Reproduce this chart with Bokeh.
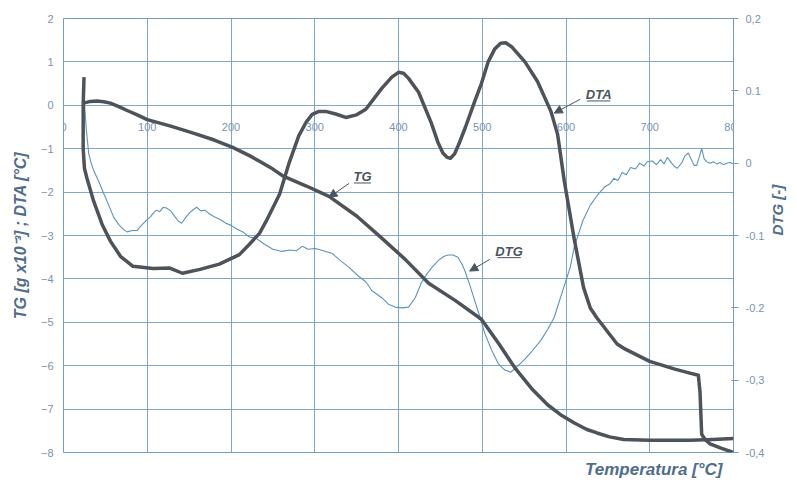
import math
from bokeh.plotting import figure
from bokeh.models import (Range1d, LinearAxis, FixedTicker, Title, Arrow, NormalHead,
                          ColumnDataSource, LabelSet)
from bokeh.core.properties import value
from bokeh.embed import file_html
from bokeh.resources import INLINE

# ---------------- data ----------------
x_ticks = [0, 100, 200, 300, 400, 500, 600, 700, 800]
x_tick_labels = ["0", "100", "200", "300", "400", "500", "600", "700", "800"]
left_ticks = [-8, -7, -6, -5, -4, -3, -2, -1, 0, 1, 2]
dtg_ticks = [-0.4, -0.3, -0.2, -0.1, 0.0, 0.1, 0.2]
dtg_tick_labels = ["-0,4", "-0,3", "-0.2", "-0.1", "0", "0.1", "0,2"]

tg_temp = [24, 32, 40, 48, 56, 66, 76, 88, 100, 128, 155, 180, 202, 222, 234, 250, 263,
           290, 317, 350, 380, 408, 436, 468, 499, 520, 539, 560, 578, 595, 610, 625,
           637, 652, 669, 700, 748, 775, 800]
tg_val = [0.05, 0.09, 0.1, 0.08, 0.05, -0.03, -0.12, -0.22, -0.33, -0.48, -0.64, -0.8,
          -0.97, -1.16, -1.29, -1.47, -1.64, -1.86, -2.1, -2.55, -3.06, -3.55, -4.1,
          -4.5, -4.93, -5.5, -6.05, -6.55, -6.9, -7.15, -7.32, -7.47, -7.55, -7.64,
          -7.7, -7.72, -7.72, -7.7, -7.68]

dta_temp = [24.5, 23.5, 23.5, 25, 28, 36, 46, 56, 68, 83, 107, 127, 142, 163, 186, 210,
            222, 234, 242, 258, 269, 281, 290, 297, 305, 313, 325, 337, 350, 361, 380, 392,
            400, 406, 412, 424, 439, 447, 453, 458, 462, 467, 473, 480, 491, 499, 507, 515,
            522, 528, 535, 551, 566, 582, 590, 598, 610, 621, 629, 637, 661, 669, 700, 730,
            748, 758, 760, 762, 766, 772, 785, 800]
dta_val = [0.65, 0.0, -1.0, -1.45, -1.68, -2.21, -2.74, -3.13, -3.48, -3.71, -3.76,
           -3.75, -3.87, -3.78, -3.66, -3.44, -3.2, -2.95, -2.67, -2.05, -1.35, -0.7,
           -0.38, -0.21, -0.14, -0.14, -0.2, -0.28, -0.22, -0.09, 0.39, 0.65, 0.76, 0.74,
           0.62, 0.3, -0.4, -0.85, -1.1, -1.2, -1.22, -1.12, -0.85, -0.5, 0.09, 0.5, 1.0,
           1.3, 1.43, 1.44, 1.35, 1.0, 0.55, -0.14, -0.67, -1.75, -3.1, -4.2, -4.67, -4.9,
           -5.5, -5.6, -5.9, -6.08, -6.17, -6.22, -6.6, -7.58, -7.7, -7.8, -7.9, -8.0]

dtg_temp = [25, 27, 30, 33, 36, 42, 48, 54, 60, 66, 72, 76, 82, 88, 93, 99, 104, 108,
            111, 115, 119, 123, 128, 133, 137, 141, 146, 151, 155, 159, 164, 169, 174,
            180, 187, 194, 200, 207, 214, 222, 230, 240, 250, 261, 270, 278, 285, 292,
            301, 310, 321, 330, 341, 352, 361, 368, 380, 388, 396, 404, 412, 420, 427,
            434, 440, 448, 454, 459, 465, 471, 476, 479, 485, 491, 497, 503, 511, 519,
            527, 534, 542, 550, 560, 570, 578, 586, 595, 605, 610, 620, 629, 637, 646,
            653, 657, 662, 667, 672, 677, 683, 688, 693, 697, 703, 708, 713, 717, 721,
            726, 730, 733, 738, 742, 746, 750, 753, 756, 759, 762, 765, 768, 772, 776,
            780, 784, 788, 792, 796, 800]
dtg_val = [0.085, 0.05, 0.014, 0.0, -0.01, -0.025, -0.042, -0.058, -0.075, -0.085,
           -0.092, -0.095, -0.093, -0.093, -0.086, -0.079, -0.074, -0.068, -0.065,
           -0.067, -0.061, -0.062, -0.066, -0.074, -0.08, -0.083, -0.075, -0.068,
           -0.064, -0.061, -0.066, -0.065, -0.07, -0.074, -0.078, -0.083, -0.086,
           -0.091, -0.095, -0.102, -0.104, -0.112, -0.119, -0.122, -0.12, -0.121,
           -0.115, -0.119, -0.118, -0.121, -0.125, -0.134, -0.144, -0.156, -0.164,
           -0.176, -0.186, -0.195, -0.199, -0.2, -0.199, -0.186, -0.166, -0.153,
           -0.144, -0.134, -0.129, -0.127, -0.127, -0.13, -0.14, -0.148, -0.168,
           -0.19, -0.212, -0.235, -0.258, -0.277, -0.286, -0.289, -0.281, -0.272,
           -0.259, -0.245, -0.23, -0.213, -0.18, -0.144, -0.115, -0.08, -0.058,
           -0.045, -0.033, -0.028, -0.021, -0.024, -0.013, -0.016, -0.006, -0.008,
           0.0, -0.004, 0.002, 0.003, -0.002, 0.005, -0.001, 0.008, 0.0, -0.005,
           -0.007, 0.0, 0.01, 0.014, 0.004, -0.003, -0.003, 0.008, 0.02, 0.006, 0.002,
           0.0, 0.002, -0.001, 0.001, -0.002, 0.0, 0.001, -0.001]

# curve annotations (label text, label position, arrow start, arrow end) in TG/DTA units
ann_text = ["TG", "DTG", "DTA"]
ann_x = [357, 532, 639]
ann_y = [-1.64, -3.36, 0.25]
arrow_x0 = [341, 509, 617]
arrow_y0 = [-1.8, -3.55, 0.14]
arrow_x1 = [317, 485, 586]
arrow_y1 = [-2.12, -3.82, -0.18]

# ---------------- styles ----------------
GRID = "#6f9ccc"
TICKC = "#7893b0"
LABC = "#4f6d8c"
THICK = "#4d5358"
THIN = "#5a93bd"
ANNC = "#4a5560"
FONT = "Liberation Sans"

p = figure(width=797, height=496, x_range=Range1d(0, 800), y_range=Range1d(-8, 2),
           output_backend="svg", toolbar_location=None,
           min_border_left=63, min_border_right=60, min_border_top=18, min_border_bottom=44)
p.extra_y_ranges = {"dtg": Range1d(-0.4, 0.2)}
p.background_fill_color = "white"
p.border_fill_color = "white"
p.outline_line_color = GRID
p.outline_line_width = 1

p.xgrid.ticker = FixedTicker(ticks=x_ticks)
p.ygrid.ticker = FixedTicker(ticks=left_ticks)
for g in (p.xgrid[0], p.ygrid[0]):
    g.grid_line_color = GRID
    g.grid_line_width = 1
    g.grid_line_alpha = 0.9

# bottom axis only reserves a small gap above the "Temperatura" title
# (its single tick lies far outside the range); the visible tick labels
# are drawn at the zero line below
xa = p.xaxis[0]
xa.ticker = FixedTicker(ticks=[-1000])
xa.major_label_overrides = {-1000: ""}
xa.axis_line_color = None
xa.major_tick_line_color = "white"
xa.minor_tick_line_color = None
xa.major_tick_in = 0
xa.major_tick_out = 12
xa.minor_tick_in = 0
xa.minor_tick_out = 0
xa.major_label_standoff = 0
xa.major_label_text_font_size = "1px"

ya = p.yaxis[0]
ya.ticker = FixedTicker(ticks=left_ticks)
ya.axis_line_color = None
ya.major_tick_line_color = None
ya.minor_tick_line_color = None
ya.major_tick_in = 0
ya.major_tick_out = 0
ya.minor_tick_in = 0
ya.minor_tick_out = 0
ya.major_label_standoff = 10
ya.major_label_text_font = FONT
ya.major_label_text_font_size = "11px"
ya.major_label_text_color = TICKC
ya.axis_label = "TG [g x10\u207b\u00b3] ; DTA [\u00b0C]"
ya.axis_label_text_font = FONT
ya.axis_label_text_font_size = "16px"
ya.axis_label_text_font_style = "bold italic"
ya.axis_label_text_color = LABC
ya.axis_label_standoff = 9

ra = LinearAxis(y_range_name="dtg", ticker=FixedTicker(ticks=dtg_ticks),
                major_label_overrides=dict(zip(dtg_ticks, dtg_tick_labels)))
ra.axis_line_color = None
ra.major_tick_line_color = GRID
ra.major_tick_in = 2
ra.major_tick_out = 5
ra.minor_tick_line_color = None
ra.minor_tick_in = 0
ra.minor_tick_out = 0
ra.major_label_standoff = 7
ra.major_label_text_font = FONT
ra.major_label_text_font_size = "11px"
ra.major_label_text_color = TICKC
ra.axis_label = "DTG [-]"
ra.axis_label_text_font = FONT
ra.axis_label_text_font_size = "15px"
ra.axis_label_text_font_style = "bold italic"
ra.axis_label_text_color = LABC
ra.axis_label_standoff = 10
if "axis_label_orientation" in ra.properties():
    ra.axis_label_orientation = math.pi / 2
p.add_layout(ra, "right")

# x tick labels sit just under the zero line, inside the plot
xl_src = ColumnDataSource(dict(x=x_ticks, y=[0] * len(x_ticks), text=x_tick_labels))
p.add_layout(LabelSet(x="x", y="y", text="text", source=xl_src, y_offset=-22,
                      text_align="center", text_baseline="middle", text_font=value(FONT),
                      text_font_size="11px", text_color=TICKC))

t = Title(text="Temperatura [\u00b0C]", align="right", offset=11,
          text_font=FONT, text_font_size="17px", text_font_style="bold italic",
          text_color=LABC)
p.add_layout(t, "below")

# curves
p.line(dtg_temp, dtg_val, y_range_name="dtg", line_color=THIN, line_width=1.1)
p.line(tg_temp, tg_val, line_color=THICK, line_width=3.5, line_join="round")
p.line(dta_temp, dta_val, line_color=THICK, line_width=3.5, line_join="round")

# annotations
src = ColumnDataSource(dict(x=ann_x, y=ann_y, text=ann_text))
p.text(x="x", y="y", text="text", source=src, text_align="center", text_baseline="middle",
       text_font=value(FONT), text_font_size="13px", text_font_style="bold italic",
       text_color=ANNC)
ul_x0 = [x - 10 - 4 * (len(s) - 2) for x, s in zip(ann_x, ann_text)]
ul_x1 = [x + 10 + 4 * (len(s) - 2) for x, s in zip(ann_x, ann_text)]
ul_y = [y - 0.15 for y in ann_y]
p.segment(x0=ul_x0, y0=ul_y, x1=ul_x1, y1=ul_y, line_color=ANNC, line_width=1)
for i in range(len(ann_text)):
    p.add_layout(Arrow(end=NormalHead(size=8, fill_color=ANNC, line_color=ANNC),
                       x_start=arrow_x0[i], y_start=arrow_y0[i],
                       x_end=arrow_x1[i], y_end=arrow_y1[i],
                       line_color=ANNC, line_width=1))

open("out.html", "w").write(file_html(p, INLINE))
